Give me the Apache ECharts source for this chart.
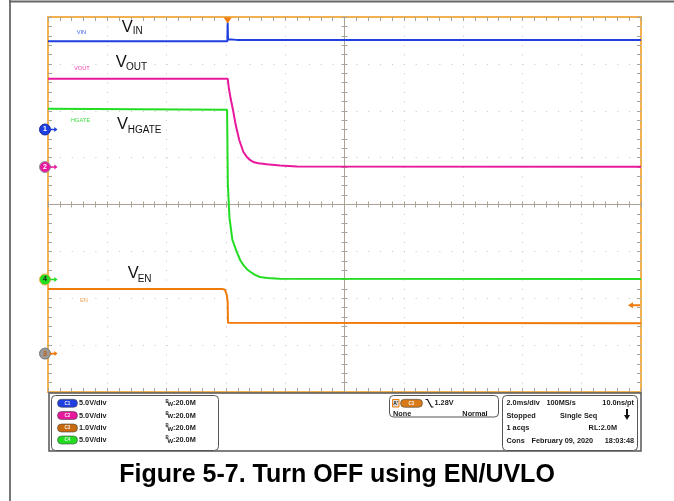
<!DOCTYPE html>
<html>
<head>
<meta charset="utf-8">
<script src="https://cdn.jsdelivr.net/npm/echarts@6/dist/echarts.min.js"></script>
<style>
  html, body { margin: 0; padding: 0; background: #ffffff; }
  #chart { width: 674px; height: 501px; }
</style>
</head>
<body>
<div id="chart"></div>
<script>
// ---- Captured waveforms (time in ms relative to the trigger, values in volts) ----
const vinTimeMs = [-6.06, -0.01, 0, 0.01, 0.06, 0.3, 13.94];
const vinVolts  = [9.41, 9.41, 11.4, 9.62, 9.65, 9.56, 9.56];

const voutTimeMs = [-6.06, 0, 0.04, 0.1, 0.18, 0.27, 0.39, 0.53, 0.64, 0.75, 0.89, 1.04, 1.32, 1.77, 2.34, 13.94];
const voutVolts  = [9.42, 9.42, 8.4, 7.3, 6.08, 4.5, 2.88, 1.6, 1.1, 0.75, 0.5, 0.4, 0.29, 0.16, 0.06, 0.03];

const hgateTimeMs = [-6.06, -0.02, 0, 0.005, 0.03, 0.06, 0.16, 0.3, 0.42, 0.54, 0.65, 0.75, 0.92, 1.09, 1.33, 1.74, 13.94];
const hgateVolts  = [18.22, 18.1, 18.1, 10.2, 8.6, 6.6, 4.21, 3.0, 2.08, 1.5, 1.1, 0.85, 0.5, 0.27, 0.16, 0.08, 0.05];

const enTimeMs = [-6.06, -0.16, -0.09, -0.03, 0, 0.01, 0.04, 13.94];
const enVolts  = [1.625, 1.625, 1.61, 1.5, 1.35, 0.91, 0.895, 0.895];

// Scope settings
const timeRangeMs = [-6.06, 13.94];        // 10 div x 2.0 ms/div
const ch1Range = [-28, 12];                // VIN   5.0 V/div
const ch2Range = [-24, 16];                // VOUT  5.0 V/div
const ch3Range = [-0.57, 7.43];            // EN    1.0 V/div
const ch4Range = [-12, 28];                // HGATE 5.0 V/div
const ch3MarkerV = 0.25;                   // EN channel reference level
const triggerLevelV = 1.28;

const channelScales = ['5.0V/div', '5.0V/div', '1.0V/div', '5.0V/div'];
const channelTags = ['C1', 'C2', 'C3', 'C4'];
const bandwidths = ['20.0M', '20.0M', '20.0M', '20.0M'];

// ---- Styling ----
const BLUE = '#1f3fe0', MAGENTA = '#e8189c', GREEN = '#22dd22', ORANGE = '#f07a0a';
const BORDER = '#f2b04e', CENTER = '#aba496', DOT = '#c4c4c4', EDGE_TICK = '#a8a398';
const FONT = '"Liberation Sans", Arial, sans-serif';

const zip = (xs, ys) => xs.map((x, i) => [x, ys[i]]);

const arrowRight = 'path://M0,2L6,2L6,0L10,3L6,6L6,4L0,4Z';
const arrowLeft = 'path://M0,3L5,0L5,2L12,2L12,4L5,4L5,6Z';
const triangleDown = 'path://M0,0L10,0L5,8Z';

function groundMarker(y, label, fill, ring, textColor, arrowColor) {
  return [
    { coord: [timeRangeMs[0], y], symbol: 'circle', symbolSize: 11, symbolOffset: [-3, 0],
      itemStyle: { color: fill, borderColor: ring, borderWidth: 1 },
      label: { show: true, position: 'inside', formatter: label, color: textColor, fontSize: 7, fontFamily: FONT, fontWeight: 'bold' } },
    { coord: [timeRangeMs[0], y], symbol: arrowRight, symbolSize: [8, 5], symbolOffset: [5.5, 0],
      itemStyle: { color: arrowColor || fill }, label: { show: false } }
  ];
}

function trace(name, xs, ys, yIdx, color, marks) {
  return {
    type: 'line', name, xAxisIndex: 0, yAxisIndex: yIdx,
    data: zip(xs, ys), showSymbol: false, symbol: 'none', clip: true,
    lineStyle: { color, width: 2 }, z: 3,
    markPoint: { silent: true, animation: false, data: marks }
  };
}

// Axis helpers for the graticule
const divTicks = (inside) => ({ show: true, inside, length: 3, lineStyle: { color: CENTER, width: 1 } });
const divMinor = { show: true, splitNumber: 5, length: 3, lineStyle: { color: CENTER, width: 1 } };
const edgeTicks = { show: true, inside: true, length: 4, lineStyle: { color: EDGE_TICK, width: 1 } };
const edgeMinor = { show: true, splitNumber: 5, length: 4, lineStyle: { color: EDGE_TICK, width: 1 } };

const xDiv = (extra) => Object.assign({ type: 'value', min: -5, max: 5, interval: 1,
  axisLabel: { show: false }, splitLine: { show: false } }, extra);
const yDiv = (extra) => Object.assign({ type: 'value', min: -4, max: 4, interval: 1,
  axisLabel: { show: false }, splitLine: { show: false } }, extra);

// ---- Annotation text helpers ----
function txt(x, baseline, text, fs, color, opts) {
  opts = opts || {};
  return {
    type: 'text', x, y: baseline - 0.3465 * fs, z: 10,
    style: { text, fill: color, fontSize: fs, fontFamily: FONT, fontWeight: opts.bold ? 'bold' : 'normal',
             align: opts.align || 'left', verticalAlign: 'middle' }
  };
}
function mid(x, yc, text, fs, color, opts) {
  opts = opts || {};
  return {
    type: 'text', x, y: yc, z: 10,
    style: { text, fill: color, fontSize: fs, fontFamily: FONT, fontWeight: opts.bold === false ? 'normal' : 'bold',
             align: opts.align || 'left', verticalAlign: 'middle' }
  };
}
function pill(x, yc, w, color, tag) {
  return [
    { type: 'rect', z: 10, shape: { x, y: yc - 4, width: w, height: 8, r: 4 },
      style: { fill: color, stroke: '#444', lineWidth: 0.6 } },
    mid(x + w / 2, yc, tag, 4.5, '#f4f4f4', { align: 'center' })
  ];
}
function bigLabel(x, baseline, sub, subX, subBaseline) {
  return [txt(x, baseline, 'V', 16.5, '#111'), txt(subX, subBaseline, sub, 10, '#111')];
}

const graphics = [];
// page frame lines
graphics.push({ type: 'line', z: 10, shape: { x1: 10, y1: 0, x2: 10, y2: 501 }, style: { stroke: '#777', lineWidth: 2 } });
graphics.push({ type: 'line', z: 10, shape: { x1: 9, y1: 1.5, x2: 674, y2: 1.5 }, style: { stroke: '#666', lineWidth: 2 } });

// trace name tags
graphics.push(txt(76.7, 34.3, 'VIN', 5.7, '#3d5cf0'));
graphics.push(txt(74, 70.7, 'VOUT', 5.7, '#f040b0'));
graphics.push(txt(71, 122.3, 'HGATE', 5.7, '#3ddf3d'));
graphics.push(txt(80, 302.3, 'EN', 5.7, '#f5a050'));

// signal names
graphics.push(...bigLabel(121.7, 33.3, 'IN', 132.7, 35));
graphics.push(...bigLabel(115.7, 68.3, 'OUT', 126, 71));
graphics.push(...bigLabel(117, 130, 'HGATE', 127.7, 133.3));
graphics.push(...bigLabel(127.7, 279.3, 'EN', 137.7, 282.3));

// readout panel frame
graphics.push({ type: 'rect', z: 9, shape: { x: 49, y: 393, width: 592, height: 58 },
  style: { fill: '#fff', stroke: '#555', lineWidth: 1.5 } });
graphics.push({ type: 'rect', z: 10, shape: { x: 51.5, y: 395.5, width: 167, height: 55, r: 4 },
  style: { fill: '#fff', stroke: '#555', lineWidth: 1 } });
graphics.push({ type: 'rect', z: 10, shape: { x: 389.5, y: 395.5, width: 109, height: 21.5, r: 4 },
  style: { fill: '#fff', stroke: '#555', lineWidth: 1 } });
graphics.push({ type: 'rect', z: 10, shape: { x: 502.5, y: 395.5, width: 135, height: 55, r: 4 },
  style: { fill: '#fff', stroke: '#555', lineWidth: 1 } });

// channel readouts
const pillColors = [BLUE, MAGENTA, '#c8680f', GREEN];
const rowY = [403.3, 415.5, 428, 440];
channelScales.forEach((s, i) => {
  graphics.push(...pill(57.5, rowY[i], 20, pillColors[i], channelTags[i]));
  graphics.push(mid(79, rowY[i], s, 7.3, '#1a1a1a'));
  graphics.push(mid(165.5, rowY[i] - 2, 'B', 4.5, '#1a1a1a'));
  graphics.push(mid(167.5, rowY[i] + 1, 'W', 6, '#1a1a1a'));
  graphics.push(mid(173, rowY[i], ':' + bandwidths[i], 7.3, '#1a1a1a'));
});

// trigger readout
graphics.push({ type: 'rect', z: 10, shape: { x: 392.5, y: 399.5, width: 6.5, height: 7.5 },
  style: { fill: '#dcdcdc', stroke: ORANGE, lineWidth: 1 } });
graphics.push(mid(395.7, 403.2, "A'", 5, '#111', { align: 'center' }));
graphics.push(...pill(400.5, 403.3, 22, '#d97a1a', 'C3'));
graphics.push({ type: 'polyline', z: 10, shape: { points: [[425.5, 399.5], [427.5, 399.5], [431.5, 407], [433.5, 407]] },
  style: { stroke: '#111', lineWidth: 1.2, fill: null } });
graphics.push(mid(434.5, 403.3, triggerLevelV.toFixed(2) + 'V', 7.3, '#1a1a1a'));
graphics.push(mid(393, 413.7, 'None', 7.3, '#1a1a1a'));
graphics.push(mid(487.5, 413.7, 'Normal', 7.3, '#1a1a1a', { align: 'right' }));

// acquisition readout
graphics.push(mid(506.5, 403.3, '2.0ms/div', 7.3, '#1a1a1a'));
graphics.push(mid(546.5, 403.3, '100MS/s', 7.3, '#1a1a1a'));
graphics.push(mid(634, 403.3, '10.0ns/pt', 7.3, '#1a1a1a', { align: 'right' }));
graphics.push(mid(506.5, 415.5, 'Stopped', 7.3, '#1a1a1a'));
graphics.push(mid(560, 415.5, 'Single Seq', 7.3, '#1a1a1a'));
graphics.push({ type: 'polygon', z: 10, shape: { points: [[626, 409], [628, 409], [628, 415], [630, 415], [627, 420], [624, 415], [626, 415]] },
  style: { fill: '#111' } });
graphics.push(mid(506.5, 428, '1 acqs', 7.3, '#1a1a1a'));
graphics.push(mid(617, 428, 'RL:2.0M', 7.3, '#1a1a1a', { align: 'right' }));
graphics.push(mid(506.5, 441, 'Cons', 7.3, '#1a1a1a'));
graphics.push(mid(531.5, 441, 'February 09, 2020', 7.3, '#1a1a1a'));
graphics.push(mid(634, 441, '18:03:48', 7.3, '#1a1a1a', { align: 'right' }));

// figure caption
graphics.push(txt(337, 484, 'Figure 5-7. Turn OFF using EN/UVLO', 25, '#000', { bold: true, align: 'center' }));

const option = {
  animation: false,
  backgroundColor: '#ffffff',
  grid: { left: 48, top: 17, width: 593, height: 375, show: true, borderColor: BORDER, borderWidth: 2, backgroundColor: 'transparent' },
  xAxis: [
    { type: 'value', min: timeRangeMs[0], max: timeRangeMs[1], show: false },
    xDiv({ axisLine: { show: true, onZero: true, onZeroAxisIndex: 4, lineStyle: { color: CENTER, width: 1 } },
           axisTick: divTicks(true), minorTick: divMinor,
           splitLine: { show: true, lineStyle: { color: DOT, width: 1, type: [1, 8.375] } } }),
    xDiv({ axisLine: { show: false, onZero: true, onZeroAxisIndex: 4 }, axisTick: divTicks(false), minorTick: divMinor }),
    xDiv({ position: 'bottom', axisLine: { show: false, onZero: false }, axisTick: edgeTicks, minorTick: edgeMinor }),
    xDiv({ position: 'top', axisLine: { show: false, onZero: false }, axisTick: edgeTicks, minorTick: edgeMinor })
  ],
  yAxis: [
    { type: 'value', min: ch1Range[0], max: ch1Range[1], show: false },
    { type: 'value', min: ch2Range[0], max: ch2Range[1], show: false },
    { type: 'value', min: ch3Range[0], max: ch3Range[1], show: false },
    { type: 'value', min: ch4Range[0], max: ch4Range[1], show: false },
    yDiv({ axisLine: { show: true, onZero: true, onZeroAxisIndex: 1, lineStyle: { color: CENTER, width: 1 } },
           axisTick: divTicks(true), minorTick: divMinor,
           splitLine: { show: true, lineStyle: { color: DOT, width: 1, type: [1, 10.86] } } }),
    yDiv({ axisLine: { show: false, onZero: true, onZeroAxisIndex: 1 }, axisTick: divTicks(false), minorTick: divMinor }),
    yDiv({ position: 'left', axisLine: { show: false, onZero: false }, axisTick: edgeTicks, minorTick: edgeMinor }),
    yDiv({ position: 'right', axisLine: { show: false, onZero: false }, axisTick: edgeTicks, minorTick: edgeMinor })
  ],
  series: [
    trace('EN', enTimeMs, enVolts, 2, ORANGE, [
      ...groundMarker(ch3MarkerV, '3', '#9a9a9a', '#777', '#c85a00', ORANGE),
      { coord: [timeRangeMs[1], triggerLevelV], symbol: arrowLeft, symbolSize: [12, 6], symbolOffset: [-7, 0],
        itemStyle: { color: ORANGE }, label: { show: false } }
    ]),
    trace('HGATE', hgateTimeMs, hgateVolts, 3, GREEN, groundMarker(0, '4', GREEN, BORDER, '#1a1a1a')),
    trace('VOUT', voutTimeMs, voutVolts, 1, MAGENTA, groundMarker(0, '2', MAGENTA, '#999', '#fff')),
    trace('VIN', vinTimeMs, vinVolts, 0, BLUE, [
      ...groundMarker(0, '1', BLUE, '#1a2ea0', '#fff'),
      { coord: [0, ch1Range[1]], symbol: triangleDown, symbolSize: [8, 6], symbolOffset: [0, 3.5],
        itemStyle: { color: ORANGE }, label: { show: false } }
    ])
  ],
  graphic: { elements: graphics }
};

const chart = echarts.init(document.getElementById('chart'), null, { renderer: 'canvas' });
chart.setOption(option);
</script>
</body>
</html>
